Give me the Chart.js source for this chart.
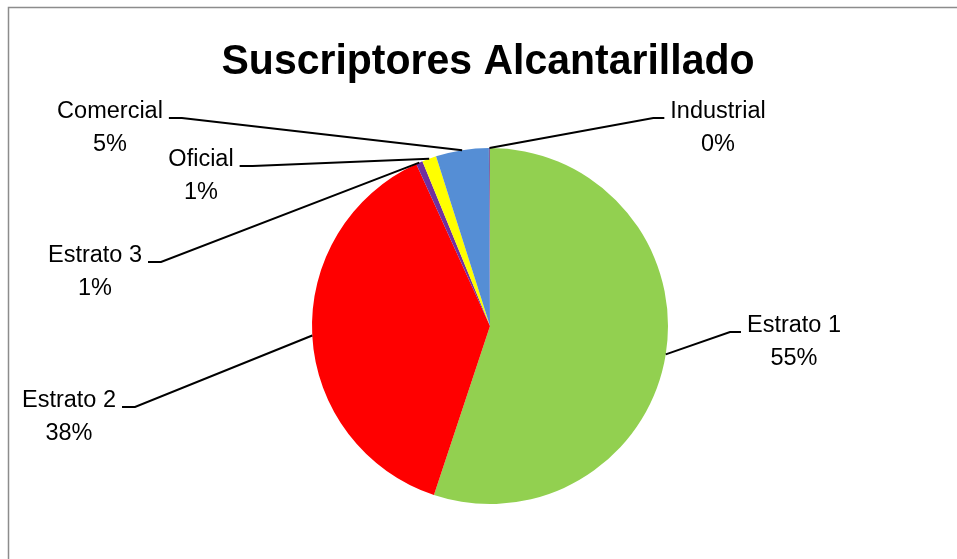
<!DOCTYPE html>
<html>
<head>
<meta charset="utf-8">
<script src="https://cdn.jsdelivr.net/npm/chart.js@4"></script>
<style>
  html, body { margin: 0; padding: 0; background: #fff; }
  canvas { display: block; }
</style>
</head>
<body>
<canvas id="myChart" width="957" height="559"></canvas>
<script>
var ctx = document.getElementById('myChart');

// data (share of subscribers, %)
var categories = ['Estrato 1', 'Estrato 2', 'Estrato 3', 'Oficial', 'Comercial', 'Industrial'];
var values = [55.1, 38.1, 0.6, 1.3, 4.8, 0.1];
var colors = ['#92D050', '#FF0000', '#7030A0', '#FFFF00', '#558ED5', '#8064A2'];
var titleText = 'Suscriptores Alcantarillado';

// where each data label sits (centre x, first line baseline), and which side the leader comes from
var labelPos = [
  { x: 794, y: 332, side: 'right' },
  { x: 69, y: 407, side: 'left' },
  { x: 95, y: 262, side: 'left' },
  { x: 201, y: 166, side: 'left' },
  { x: 110, y: 118, side: 'left' },
  { x: 718, y: 118, side: 'right' }
];

var labelFont = '23.5px "Liberation Sans", Arial, sans-serif';

var decor = {
  id: 'decor',
  beforeDraw: function (chart) {
    var c = chart.ctx;
    c.save();
    c.fillStyle = '#fff';
    c.fillRect(0, 0, chart.width, chart.height);
    c.strokeStyle = '#8c8c8c';
    c.lineWidth = 1.5;
    c.beginPath();
    c.moveTo(8.5, chart.height);
    c.lineTo(8.5, 7.5);
    c.lineTo(chart.width, 7.5);
    c.stroke();
    c.restore();
  },
  afterDraw: function (chart) {
    var c = chart.ctx;
    c.save();
    // title, squeezed a bit so it spans like the original
    c.font = 'bold 43px "Liberation Sans", Arial, sans-serif';
    c.fillStyle = '#000';
    c.textAlign = 'center';
    c.textBaseline = 'alphabetic';
    var w = c.measureText(titleText).width;
    var k = 533 / w;
    c.save();
    c.translate(488, 74);
    c.scale(k, 1);
    c.fillText(titleText, 0, 0);
    c.restore();

    var total = values.reduce(function (a, b) { return a + b; }, 0);
    var arcs = chart.getDatasetMeta(0).data;
    c.font = labelFont;
    c.lineWidth = 2;
    c.strokeStyle = '#000';
    arcs.forEach(function (arc, i) {
      var p = labelPos[i];
      var mid = (arc.startAngle + arc.endAngle) / 2;
      var ax = arc.x + Math.cos(mid) * arc.outerRadius;
      var ay = arc.y + Math.sin(mid) * arc.outerRadius;
      var tw = c.measureText(categories[i]).width;
      var ex1, ex2;
      if (p.side === 'left') {
        ex1 = p.x + tw / 2 + 6;
        ex2 = ex1 + 13;
      } else {
        ex1 = p.x - tw / 2 - 6;
        ex2 = ex1 - 11;
      }
      c.beginPath();
      c.moveTo(ex1, p.y);
      c.lineTo(ex2, p.y);
      c.lineTo(ax, ay);
      c.stroke();
      c.fillStyle = '#000';
      c.textAlign = 'center';
      c.fillText(categories[i], p.x, p.y);
      c.fillText(Math.round(values[i] / total * 100) + '%', p.x, p.y + 33);
    });
    c.restore();
  }
};

var myChart = new Chart(ctx, {
  type: 'pie',
  data: {
    labels: categories,
    datasets: [{
      data: values,
      backgroundColor: colors,
      borderWidth: 0
    }]
  },
  options: {
    responsive: false,
    animation: false,
    layout: { padding: { left: 312, right: 289, top: 148, bottom: 55 } },
    plugins: {
      legend: { display: false },
      title: { display: false },
      tooltip: { enabled: false }
    }
  },
  plugins: [decor]
});
</script>
</body>
</html>
